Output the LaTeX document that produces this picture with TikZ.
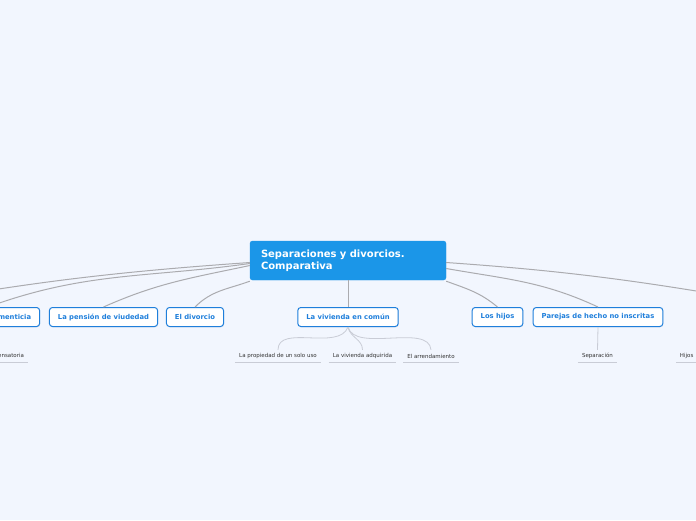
\documentclass[tikz,border=0pt]{standalone}
\usepackage{fontspec}
\setmainfont{DejaVu Sans}
\usetikzlibrary{shadows}
\definecolor{bg}{HTML}{F2F6FE}
\definecolor{rootfill}{HTML}{1B96E8}
\definecolor{kidblue}{HTML}{1F7FDB}
\definecolor{linegray}{HTML}{ABABAF}
\definecolor{leafline}{HTML}{C9CCD6}
\definecolor{leaftext}{HTML}{333333}
\tikzset{
  rootbox/.style={fill=rootfill, draw=rootfill, rounded corners=2.5pt, text=white,
    font=\fontsize{10}{12}\selectfont\bfseries, text width=174pt, align=left,
    inner xsep=11pt, minimum height=39pt},
  kidbox/.style={fill=white, draw=kidblue, line width=1pt, rounded corners=3pt, text=kidblue,
    font=\fontsize{6.8}{8}\selectfont\bfseries, inner xsep=8.5pt, inner ysep=0pt,
    minimum height=19pt, drop shadow={opacity=0.12, shadow xshift=0.6pt, shadow yshift=-0.8pt}},
  leafbox/.style={text=leaftext, font=\fontsize{5.5}{6.6}\selectfont, inner xsep=4pt,
    inner ysep=0pt, minimum height=12pt},
  conn/.style={draw=linegray, line width=1pt},
  leafconn/.style={draw=leafline, line width=0.8pt},
}
\begin{document}
\begin{tikzpicture}[x=1pt,y=-1pt]
\useasboundingbox (0,0) rectangle (696,520);
\fill[bg] (0,0) rectangle (696,520);
\clip (0,0) rectangle (696,520);
% nodes
\node[rootbox] (root) at (348,260.5) {Separaciones y divorcios.\\Comparativa};
\node[kidbox] (alim) at (-12,317) {La pensión alimenticia};
\node[kidbox] (viud) at (103.5,317) {La pensión de viudedad};
\node[kidbox] (div) at (195,317) {El divorcio};
\node[kidbox] (viv) at (348,317) {La vivienda en común};
\node[kidbox] (hijos) at (497.5,317) {Los hijos};
\node[kidbox] (parejas) at (598,317) {Parejas de hecho no inscritas};
\coordinate (offL) at (-110,307);
\coordinate (offR) at (790,307);
% leaves
\node[leafbox] (comp) at (-8,356) {Pensión compensatoria};
\node[leafbox] (prop) at (278,356) {La propiedad de un solo uso};
\node[leafbox] (adq) at (362.5,356) {La vivienda adquirida};
\node[leafbox] (arr) at (431,356) {El arrendamiento};
\node[leafbox] (sep) at (597.5,356) {Separación};
\node[leafbox] (hj) at (686.7,356) {Hijos};
\foreach \n in {comp,prop,adq,arr,sep,hj}
  \draw[leafconn] (\n.south west) -- (\n.south east);
% connectors from root
\draw[conn] ([yshift=-2pt]root.west) to[out=184,in=10] (offL);
\draw[conn] ([yshift=-3pt]root.west) to[out=188,in=20] (alim.north);
\draw[conn] ([yshift=-5pt]root.west) to[out=192,in=24] (viud.north);
\draw[conn] ([yshift=-1pt]root.south west) to[out=200,in=45] (div.north);
\draw[conn] (root.south) -- (viv.north);
\draw[conn] ([yshift=-2pt]root.east) to[out=-4,in=170] (offR);
\draw[conn] ([yshift=-8pt]root.east) to[out=-10,in=155] (parejas.north);
\draw[conn] ([yshift=-1pt]root.south east) to[out=-20,in=140] (hijos.north);
% leaf connectors
\draw[leafconn] (alim.south) to[out=-90,in=90] (comp.north);
\draw[leafconn] (viv.south) to[out=-110,in=90,looseness=0.9] (prop.north);
\draw[leafconn] (viv.south) to[out=-80,in=90] (adq.north);
\draw[leafconn] (viv.south) to[out=-75,in=95,looseness=0.8] (arr.north);
\draw[leafconn] (parejas.south) -- (sep.north);
\end{tikzpicture}
\end{document}
